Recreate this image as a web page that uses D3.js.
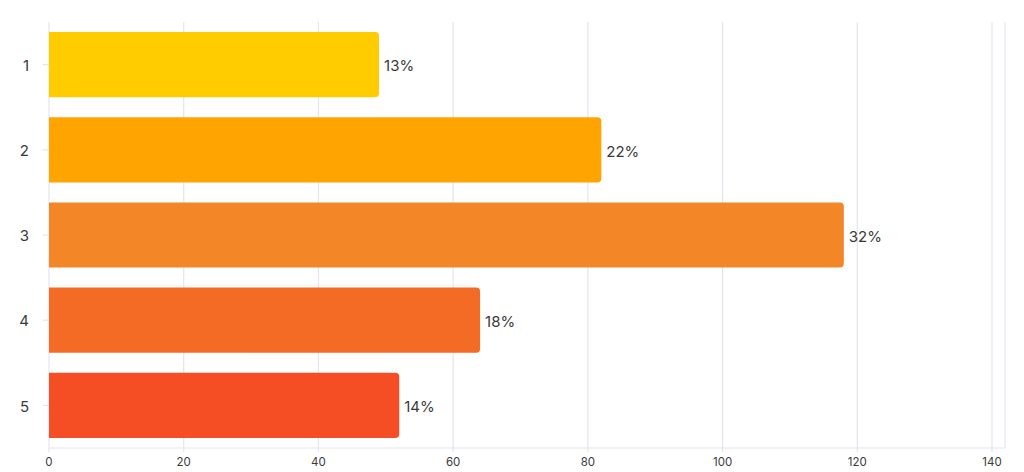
<!DOCTYPE html>
<html><head><meta charset="utf-8">
<script src="https://cdn.jsdelivr.net/npm/d3@7"></script>
<style>body{margin:0;background:#fff;}svg{display:block;font-family:Inter,"Noto Sans",sans-serif;}</style>
</head><body>
<svg id="c" width="1024" height="472"></svg>
<script>
const categories = ["1","2","3","4","5"];
const values = [49, 82, 118, 64, 52];
const labels = ["13%","22%","32%","18%","14%"];
const colors = ["#FFCC00","#FFA400","#F38626","#F46B25","#F54E24"];
const xTicks = [0,20,40,60,80,100,120,140];

(function(){
const svg = d3.select("#c");
const pL = 49, pR = 992, pT = 22, pB = 448, plotRight = 1005;
const x = d3.scaleLinear().domain([0,140]).range([pL, pR]);
const y = d3.scaleBand().domain(categories).range([pT, pB]).paddingInner(0.235).paddingOuter(0.117);
const grid = "#e4e4ee";

svg.append("g").selectAll("line").data(xTicks).join("line")
  .attr("x1", d=>x(d)).attr("x2", d=>x(d)).attr("y1", pT).attr("y2", pB+4)
  .attr("stroke", grid).attr("stroke-width", 1.2);
svg.append("line").attr("x1", plotRight).attr("x2", plotRight).attr("y1", pT).attr("y2", pB).attr("stroke", grid).attr("stroke-width",1.2);
svg.append("line").attr("x1", pL).attr("x2", plotRight).attr("y1", pB).attr("y2", pB).attr("stroke", grid).attr("stroke-width",1.2);

svg.append("g").selectAll("line").data(categories).join("line")
  .attr("x1", pL-6).attr("x2", pL).attr("y1", d=>y(d)+y.bandwidth()/2).attr("y2", d=>y(d)+y.bandwidth()/2)
  .attr("stroke", grid).attr("stroke-width",1.2);
svg.append("g").selectAll("text").data(categories).join("text")
  .attr("x", 29).attr("y", d=>y(d)+y.bandwidth()/2+1).attr("dy","0.35em")
  .attr("text-anchor","end").attr("font-size",15).attr("fill","#3a3a3a").text(d=>d);

svg.append("g").selectAll("text").data(xTicks).join("text")
  .attr("x", d=>x(d)).attr("y", 462).attr("dy","0.35em")
  .attr("text-anchor","middle").attr("font-size",11.5).attr("fill","#3a3a3a").text(d=>d);

const r = 4;
function barPath(x0, x1, y0, h){
  return `M${x0},${y0}H${x1-r}Q${x1},${y0} ${x1},${y0+r}V${y0+h-r}Q${x1},${y0+h} ${x1-r},${y0+h}H${x0}Z`;
}
svg.append("g").selectAll("path").data(categories).join("path")
  .attr("d", (d,i)=>barPath(x(0), x(values[i]), y(d), y.bandwidth()))
  .attr("fill", (d,i)=>colors[i]);

svg.append("g").selectAll("text").data(categories).join("text")
  .attr("x", (d,i)=>x(values[i])+5).attr("y", d=>y(d)+y.bandwidth()/2+1.5).attr("dy","0.35em")
  .attr("font-size",15).attr("fill","#3a3a3a").text((d,i)=>labels[i]);
})();
</script>
</body></html>
